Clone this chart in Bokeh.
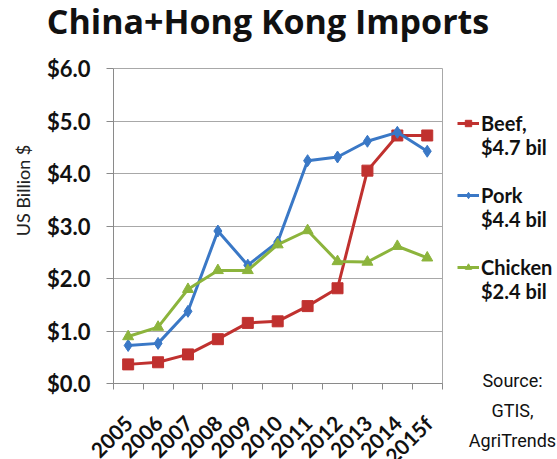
import numpy as np
from bokeh.plotting import figure
from bokeh.models import FixedTicker, Legend, LegendItem, Label, Range1d, Grid
from bokeh.core.properties import value
from bokeh.embed import file_html
from bokeh.resources import INLINE

years = ["2005", "2006", "2007", "2008", "2009", "2010", "2011", "2012", "2013", "2014", "2015f"]
beef = [0.37, 0.41, 0.56, 0.85, 1.16, 1.19, 1.48, 1.82, 4.06, 4.73, 4.73]
pork = [0.73, 0.77, 1.38, 2.91, 2.26, 2.70, 4.25, 4.32, 4.62, 4.79, 4.43]
chicken = [0.90, 1.08, 1.80, 2.16, 2.16, 2.65, 2.92, 2.33, 2.32, 2.62, 2.40]
y_ticks = [0, 1, 2, 3, 4, 5, 6]
y_tick_labels = ["$0.0", "$1.0", "$2.0", "$3.0", "$4.0", "$5.0", "$6.0"]
legend_labels = ["Beef,\n$4.7 bil", "Pork\n$4.4 bil", "Chicken\n$2.4 bil"]
title_text = "China+Hong Kong Imports"
y_title = "US Billion $"
source_text = "Source:\nGTIS,\nAgriTrends"

RED = "#C0312F"
BLUE = "#3A78C6"
GREEN = "#8CB43C"
AXIS = "#8A8A8A"
GRID = "#A8A8A8"
FONT = "Lato"

W, H = 557, 459
# plot area in pixels (left, right, top, bottom)
L, R, T, B = 112.7, 441.7, 68.3, 383.3

n = len(years)
ymax = y_ticks[-1]
xpos = np.arange(n) + 0.5
px_x = (R - L) / n
px_y = (B - T) / ymax

def dx(px):
    return (px - L) / px_x

def dy(py):
    return (B - py) / px_y

p = figure(width=W, height=H, output_backend="svg", toolbar_location=None,
           x_range=Range1d(dx(0), dx(W)), y_range=Range1d(dy(H), dy(0)),
           x_axis_type=None, y_axis_type=None,
           min_border_left=0, min_border_right=0, min_border_top=0,
           min_border_bottom=0, background_fill_color="white",
           border_fill_color="white", outline_line_color=None)

# grid lines, plot-area border, axis lines and ticks
guides = [
    Grid(dimension=1, ticker=FixedTicker(ticks=y_ticks), cross_bounds=(0, n),
         grid_line_color=GRID, grid_line_width=1),
    Grid(dimension=0, ticker=FixedTicker(ticks=[n]), cross_bounds=(0, ymax),
         grid_line_color=GRID, grid_line_width=1),
    Grid(dimension=1, ticker=FixedTicker(ticks=[0]), cross_bounds=(0, n),
         grid_line_color=AXIS, grid_line_width=1),
    Grid(dimension=0, ticker=FixedTicker(ticks=[0]), cross_bounds=(0, ymax),
         grid_line_color=AXIS, grid_line_width=1),
    Grid(dimension=0, ticker=FixedTicker(ticks=list(range(n + 1))),
         cross_bounds=(-6 / px_y, 0), grid_line_color=AXIS, grid_line_width=1),
    Grid(dimension=1, ticker=FixedTicker(ticks=y_ticks),
         cross_bounds=(-7 / px_x, 0), grid_line_color=AXIS, grid_line_width=1),
]
for g in guides:
    p.add_layout(g)

# title
p.add_layout(Label(x=dx(267.5), y=dy(20), text=title_text, text_align="center",
                   text_baseline="alphabetic", text_font="Open Sans",
                   text_font_style="bold", text_font_size="34px", text_color="#111111"))

# y tick labels and axis title
p.text(x=dx(90), y=y_ticks, text=y_tick_labels, text_align="right",
       text_baseline="middle", text_font=value(FONT), text_font_style="bold",
       text_font_size="22px", text_color="#111111")
p.add_layout(Label(x=dx(22), y=dy(190), text=y_title, angle=np.pi / 2,
                   text_align="center", text_baseline="middle", text_font=FONT,
                   text_font_size="18px", text_color="#222222"))

# category labels (rotated)
p.text(x=xpos, y=dy(419), text=years, angle=np.pi / 4, x_offset=1,
       text_align="right", text_baseline="middle", text_font=value(FONT),
       text_font_style="bold", text_font_size="21px", text_color="#111111")

# series
lb = p.line(xpos, beef, line_color=RED, line_width=3)
mb = p.scatter(xpos, beef, marker="square", size=11, fill_color=RED, line_color=RED)
lp = p.line(xpos, pork, line_color=BLUE, line_width=3)
mp = p.scatter(xpos, pork, marker="diamond", size=12, fill_color=BLUE, line_color=BLUE)
lc = p.line(xpos, chicken, line_color=GREEN, line_width=3)
mc = p.scatter(xpos, chicken, marker="triangle", size=11, fill_color=GREEN, line_color=GREEN)

legend = Legend(items=[
    LegendItem(label="\n" + legend_labels[0], renderers=[lb, mb]),
    LegendItem(label="\n" + legend_labels[1], renderers=[lp, mp]),
    LegendItem(label="\n" + legend_labels[2], renderers=[lc, mc]),
], location=(457, H - 303), border_line_color=None, background_fill_alpha=0,
    label_text_font=FONT, label_text_font_style="bold", label_text_font_size="20px",
    label_text_color="#111111", label_text_line_height=1.4,
    glyph_width=22, glyph_height=16, label_standoff=2,
    spacing=-18, padding=0, margin=0)
p.add_layout(legend, "center")

# source note
p.add_layout(Label(x=dx(512), y=dy(369), text=source_text, text_align="center",
                   text_baseline="top", text_font="Roboto", text_font_size="18px",
                   text_color="#111111", text_line_height=1.45))

open("out.html", "w").write(file_html(p, INLINE))
